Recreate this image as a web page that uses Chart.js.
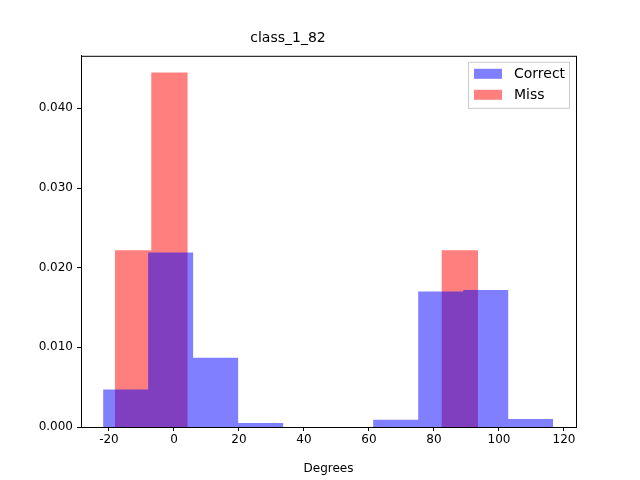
<!DOCTYPE html>
<html>
<head>
<meta charset="utf-8">
<script src="https://cdn.jsdelivr.net/npm/chart.js@4/dist/chart.umd.min.js"></script>
<style>
  html, body { margin: 0; padding: 0; background: #fff; }
  #wrap { width: 640px; height: 480px; }
</style>
</head>
<body>
<div id="wrap"><canvas id="histChart" width="640" height="480"></canvas></div>
<script>
// DATA
const correctEdges = [-21.8, -7.95, 5.9, 19.75, 33.6, 47.45, 61.3, 75.15, 89.0, 102.85, 116.7];
const correctHeights = [0.0047, 0.0219, 0.0087, 0.0005, 0, 0, 0.0009, 0.0170, 0.0172, 0.0010];
const missEdges = [-18.15, -6.98, 4.19, 15.36, 26.53, 37.7, 48.87, 60.04, 71.21, 82.38, 93.55];
const missHeights = [0.0222, 0.0445, 0, 0, 0, 0, 0, 0, 0, 0.0222];
const xTicks = [-20, 0, 20, 40, 60, 80, 100, 120];
const yTicks = [0, 0.01, 0.02, 0.03, 0.04];

const blue = "rgba(0,0,255,0.5)";
const red = "rgba(255,0,0,0.5)";

// outline of a histogram as a polygon
function histPoints(edges, heights) {
  const pts = [];
  heights.forEach((h, i) => {
    pts.push({ x: edges[i], y: 0 }, { x: edges[i], y: h }, { x: edges[i + 1], y: h }, { x: edges[i + 1], y: 0 });
  });
  return pts;
}

const frame = {
  id: "frame",
  afterDraw(chart) {
    const { ctx, chartArea: a } = chart;
    ctx.save();
    ctx.strokeStyle = "#000";
    ctx.lineWidth = 1;
    ctx.strokeRect(a.left + 0.5, a.top + 0.5, a.right - a.left, a.bottom - a.top);
    // legend
    const items = [["Correct", blue], ["Miss", red]];
    const bx = a.right - 108, by = a.top + 6;
    ctx.fillStyle = "rgba(255,255,255,0.8)";
    ctx.strokeStyle = "#ccc";
    ctx.fillRect(bx, by, 101, 46);
    ctx.strokeRect(bx + 0.5, by + 0.5, 101, 46);
    ctx.font = "14px 'DejaVu Sans'";
    ctx.textBaseline = "middle";
    items.forEach(([label, col], i) => {
      const y = by + 12 + i * 21;
      ctx.fillStyle = col;
      ctx.fillRect(bx + 6, y - 5, 28, 10);
      ctx.fillStyle = "#000";
      ctx.fillText(label, bx + 46, y + 1);
    });
    ctx.restore();
  }
};

const ctx = document.getElementById("histChart").getContext("2d");
new Chart(ctx, {
  type: "line",
  data: {
    datasets: [
      { label: "Correct", data: histPoints(correctEdges, correctHeights), fill: "origin", backgroundColor: blue, borderWidth: 0, pointRadius: 0, tension: 0 },
      { label: "Miss", data: histPoints(missEdges, missHeights), fill: "origin", backgroundColor: red, borderWidth: 0, pointRadius: 0, tension: 0 }
    ]
  },
  options: {
    responsive: false,
    animation: false,
    layout: { padding: { left: 0, right: 64, top: 0, bottom: 0 } },
    plugins: {
      legend: { display: false },
      tooltip: { enabled: false },
      title: { display: true, text: "class_1_82", color: "#000", font: { family: "DejaVu Sans", size: 14, weight: "normal" }, padding: { top: 30, bottom: 9 } }
    },
    scales: {
      x: {
        type: "linear", min: -28.6, max: 123.7,
        afterBuildTicks: s => { s.ticks = xTicks.map(v => ({ value: v })); },
        grid: { drawOnChartArea: false, tickLength: 4, color: "#000" },
        border: { color: "#000" },
        ticks: { color: "#000", font: { family: "DejaVu Sans", size: 12 }, padding: 2, maxRotation: 0 },
        title: { display: true, text: "Degrees", color: "#000", font: { family: "DejaVu Sans", size: 12 }, padding: { top: 2 } },
        afterFit: s => { s.height = 53; }
      },
      y: {
        min: 0, max: 0.0466,
        afterBuildTicks: s => { s.ticks = yTicks.map(v => ({ value: v })); },
        grid: { drawOnChartArea: false, tickLength: 4, color: "#000" },
        border: { color: "#000" },
        ticks: { color: "#000", font: { family: "DejaVu Sans", size: 12 }, padding: 4, callback: v => v.toFixed(2 + (v === 0 ? 1 : 1)) },
        afterFit: s => { s.width = 81; }
      }
    }
  },
  plugins: [frame]
});
</script>
</body>
</html>
